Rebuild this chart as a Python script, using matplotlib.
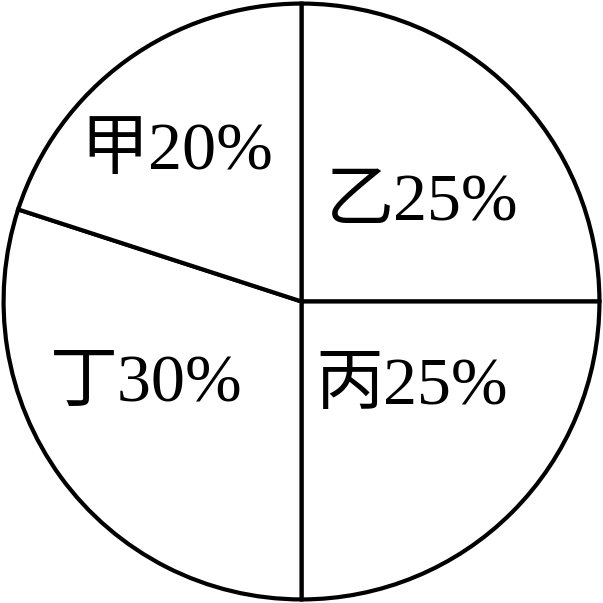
import matplotlib.pyplot as plt

plt.rcParams['font.family'] = ['Liberation Serif', 'Noto Sans CJK SC']

names = ["乙", "丙", "丁", "甲"]
shares = [25, 25, 30, 20]
# label spots inside each slice (data units, circle radius = 1)
label_x = [0.405, 0.37, -0.52, -0.42]
label_y = [0.33, -0.29, -0.28, 0.50]

fig = plt.figure(figsize=(6.03, 6.03), dpi=100)
ax = fig.add_axes([0.0, 0.0, 1.0, 1.0])
ax.pie(shares, startangle=90, counterclock=False, colors=["white"] * 4,
       radius=1.0, wedgeprops=dict(edgecolor="black", linewidth=3.0))

for n, s, x, y in zip(names, shares, label_x, label_y):
    ax.text(x, y, "{}{}%".format(n, s), ha="center", va="center", fontsize=49)

ax.set_xlim(-1.012, 1.012)
ax.set_ylim(-1.012, 1.012)
ax.set_aspect("equal")
ax.axis("off")
fig.savefig("out.png", dpi=100, facecolor="white")
